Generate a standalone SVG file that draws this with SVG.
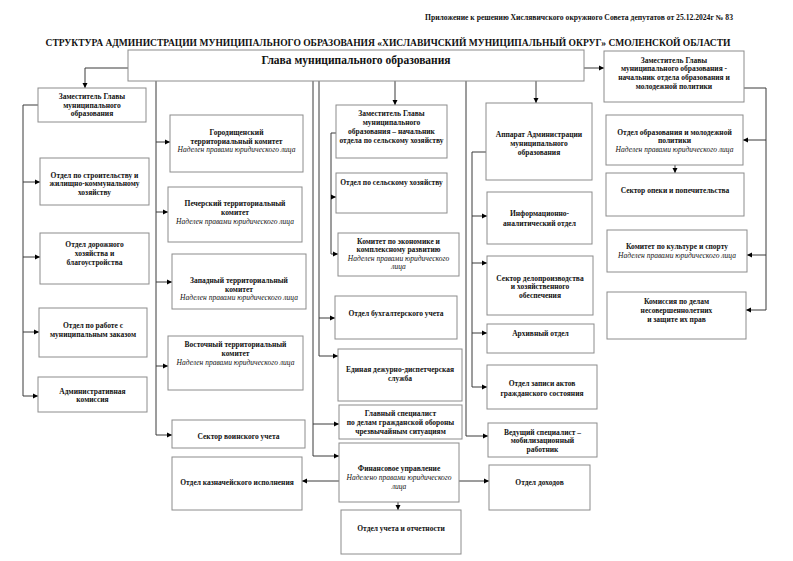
<svg xmlns="http://www.w3.org/2000/svg" width="793" height="561" viewBox="0 0 793 561">
<style>
.box{fill:#fff;stroke:#8c8c8c;stroke-width:1}
.t{font-family:"Liberation Serif","Times New Roman",serif;font-size:7.5px;font-weight:bold;text-anchor:middle;fill:#111}
.i{font-style:italic;font-weight:normal}
.c{fill:none;stroke:#3a3a3a;stroke-width:1}
.a{marker-end:url(#ah)}
</style>
<defs>
<marker id="ah" markerWidth="6" markerHeight="6" refX="5" refY="3" orient="auto" markerUnits="userSpaceOnUse">
<path d="M0,0.5 L5,3 L0,5.5 Z" fill="#000"/>
</marker>
</defs>
<rect width="793" height="561" fill="#fff"/>
<text x="733" y="20" class="t" style="text-anchor:end;font-size:7.2px" textLength="308" lengthAdjust="spacingAndGlyphs">Приложение к решению Хислявичского окружного Совета депутатов от 25.12.2024г  № 83</text>
<text x="388" y="45.5" class="t" style="font-size:10px" textLength="685" lengthAdjust="spacingAndGlyphs">СТРУКТУРА АДМИНИСТРАЦИИ МУНИЦИПАЛЬНОГО ОБРАЗОВАНИЯ «ХИСЛАВИЧСКИЙ МУНИЦИПАЛЬНЫЙ ОКРУГ» СМОЛЕНСКОЙ ОБЛАСТИ</text>

<g id="connectors">
<polyline class="c a" points="128,68 85,68 85,88"/>
<line class="c a" x1="584" y1="68" x2="604" y2="68"/>
<polyline class="c" points="38,105 23,105 23,396"/>
<line class="c a" x1="23" y1="182" x2="40" y2="182"/>
<line class="c a" x1="23" y1="257" x2="40" y2="257"/>
<line class="c a" x1="23" y1="332" x2="39" y2="332"/>
<line class="c a" x1="23" y1="396" x2="38" y2="396"/>
<line class="c" x1="156" y1="81" x2="156" y2="435"/>
<line class="c a" x1="156" y1="142" x2="170" y2="142"/>
<line class="c a" x1="156" y1="212" x2="168" y2="212"/>
<line class="c a" x1="156" y1="282" x2="172" y2="282"/>
<line class="c a" x1="156" y1="366" x2="168" y2="366"/>
<line class="c a" x1="156" y1="435" x2="172" y2="435"/>
<line class="c" x1="319" y1="81" x2="319" y2="356"/>
<line class="c a" x1="319" y1="318" x2="335" y2="318"/>
<line class="c a" x1="319" y1="356" x2="338" y2="356"/>
<line class="c" x1="313" y1="81" x2="313" y2="456"/>
<line class="c a" x1="313" y1="424" x2="339" y2="424"/>
<line class="c a" x1="313" y1="456" x2="339" y2="456"/>
<line class="c a" x1="395" y1="81" x2="395" y2="105"/>
<polyline class="c" points="336,133 331,133 331,254"/>
<line class="c a" x1="331" y1="197" x2="336" y2="197"/>
<line class="c a" x1="331" y1="254" x2="338" y2="254"/>
<polyline class="c a" points="466,81 466,436 488,436"/>
<line class="c a" x1="536" y1="81" x2="536" y2="103"/>
<polyline class="c" points="486,152 472,152 472,387"/>
<line class="c a" x1="472" y1="216" x2="487" y2="216"/>
<line class="c a" x1="472" y1="263" x2="487" y2="263"/>
<line class="c a" x1="472" y1="333" x2="487" y2="333"/>
<line class="c a" x1="472" y1="387" x2="487" y2="387"/>
<line class="c a" x1="339" y1="481" x2="302" y2="481"/>
<line class="c a" x1="459" y1="481" x2="489" y2="481"/>
<line class="c a" x1="398" y1="502" x2="398" y2="510"/>
<polyline class="c" points="744,88 766,88 766,310"/>
<line class="c a" x1="766" y1="140" x2="743" y2="140"/>
<line class="c a" x1="766" y1="255" x2="747" y2="255"/>
<line class="c a" x1="766" y1="310" x2="746" y2="310"/>
<line class="c a" x1="675" y1="165" x2="675" y2="173"/>
</g>

<g id="head"><rect class="box" x="128" y="50" width="456" height="31"/><text class="t" x="356" y="64" style="font-size:11.5px">Глава муниципального образования</text></g>

<g id="dep_left"><rect class="box" x="38" y="88" width="108" height="34"/>
<text class="t" x="92" y="98.5">Заместитель Главы</text><text class="t" x="92" y="107.5">муниципального</text><text class="t" x="92" y="116">образования</text></g>
<g id="l1"><rect class="box" x="40" y="158" width="109" height="47"/>
<text class="t" x="94.5" y="177.5">Отдел по строительству и</text><text class="t" x="94.5" y="185.5">жилищно-коммунальному</text><text class="t" x="94.5" y="194.5">хозяйству</text></g>
<g id="l2"><rect class="box" x="40" y="233" width="109" height="51"/>
<text class="t" x="94.5" y="246.5">Отдел дорожного</text><text class="t" x="94.5" y="255.5">хозяйства и</text><text class="t" x="94.5" y="264.5">благоустройства</text></g>
<g id="l3"><rect class="box" x="39" y="308" width="108" height="49"/>
<text class="t" x="93" y="327.5">Отдел по работе с</text><text class="t" x="93" y="336.5">муниципальным заказом</text></g>
<g id="l4"><rect class="box" x="38" y="377" width="109" height="35"/>
<text class="t" x="92.5" y="393.5">Административная</text><text class="t" x="92.5" y="401.5">комиссия</text></g>

<g id="gorod"><rect class="box" x="170" y="115" width="133" height="57"/>
<text class="t" x="236.5" y="134.5">Городищенский</text><text class="t" x="236.5" y="143.5">территориальный комитет</text><text class="t i" x="236.5" y="151.5">Наделен правами юридического лица</text></g>
<g id="pecher"><rect class="box" x="168" y="187" width="134" height="55"/>
<text class="t" x="235" y="205.5">Печерский территориальный</text><text class="t" x="235" y="214.5">комитет</text><text class="t i" x="235" y="223.5">Наделен правами юридического лица</text></g>
<g id="zapad"><rect class="box" x="172" y="254" width="134" height="55"/>
<text class="t" x="239" y="282.5">Западный территориальный</text><text class="t" x="239" y="291.5">комитет</text><text class="t i" x="239" y="299.5">Наделен правами юридического лица</text></g>
<g id="vostok"><rect class="box" x="168" y="336" width="135" height="54"/>
<text class="t" x="235.5" y="346.5">Восточный территориальный</text><text class="t" x="235.5" y="355.5">комитет</text><text class="t i" x="235.5" y="364.5">Наделен правами юридического лица</text></g>
<g id="voin"><rect class="box" x="172" y="420" width="133" height="28"/>
<text class="t" x="238.5" y="438.5">Сектор воинского учета</text></g>
<g id="kazn"><rect class="box" x="172" y="457" width="130" height="53"/>
<text class="t" x="237" y="484.5">Отдел казначейского исполнения</text></g>

<g id="dep_agri"><rect class="box" x="336" y="105" width="111" height="53"/>
<text class="t" x="391.5" y="116">Заместитель Главы</text><text class="t" x="391.5" y="124.5">муниципального</text><text class="t" x="391.5" y="133.5">образования – начальник</text><text class="t" x="391.5" y="142.5">отдела по сельскому хозяйству</text></g>
<g id="agri"><rect class="box" x="336" y="173" width="111" height="40"/>
<text class="t" x="391.5" y="184.5">Отдел по сельскому хозяйству</text></g>
<g id="econ"><rect class="box" x="338" y="233" width="121" height="43"/>
<text class="t" x="398.5" y="243.5">Комитет по экономике и</text><text class="t" x="398.5" y="251.5">комплексному развитию</text><text class="t i" x="398.5" y="260.5">Наделен правами юридического</text><text class="t i" x="398.5" y="268.5">лица</text></g>
<g id="buh"><rect class="box" x="335" y="296" width="122" height="43"/>
<text class="t" x="396" y="315.5">Отдел бухгалтерского учета</text></g>
<g id="edds"><rect class="box" x="338" y="349" width="124" height="52"/>
<text class="t" x="400" y="371.5">Единая дежурно-диспетчерская</text><text class="t" x="400" y="380.5">служба</text></g>
<g id="gochs"><rect class="box" x="339" y="405" width="123" height="34"/>
<text class="t" x="400.5" y="415.5">Главный специалист</text><text class="t" x="400.5" y="424.5">по делам гражданской обороны</text><text class="t" x="400.5" y="433.5">чрезвычайным ситуациям</text></g>
<g id="fin"><rect class="box" x="339" y="443" width="120" height="59"/>
<text class="t" x="399" y="470.5">Финансовое управление</text><text class="t i" x="399" y="479.5">Наделено правами юридического</text><text class="t i" x="399" y="488.5">лица</text></g>
<g id="uchet"><rect class="box" x="341" y="510" width="120" height="44"/>
<text class="t" x="401" y="530.5">Отдел учета и отчетности</text></g>

<g id="apparat"><rect class="box" x="486" y="103" width="106" height="77"/>
<text class="t" x="539" y="136.5">Аппарат Администрации</text><text class="t" x="539" y="145.5">муниципального</text><text class="t" x="539" y="154.5">образования</text></g>
<g id="info"><rect class="box" x="487" y="192" width="105" height="52"/>
<text class="t" x="539.5" y="216">Информационно-</text><text class="t" x="539.5" y="226">аналитический отдел</text></g>
<g id="delo"><rect class="box" x="487" y="256" width="106" height="59"/>
<text class="t" x="540" y="280.5">Сектор делопроизводства</text><text class="t" x="540" y="288.5">и хозяйственного</text><text class="t" x="540" y="297.5">обеспечения</text></g>
<g id="archive"><rect class="box" x="487" y="324" width="107" height="29"/>
<text class="t" x="540.5" y="335.5">Архивный отдел</text></g>
<g id="zags"><rect class="box" x="487" y="365" width="110" height="44"/>
<text class="t" x="542" y="385.5">Отдел записи актов</text><text class="t" x="542" y="395.5">гражданского состояния</text></g>
<g id="mob"><rect class="box" x="488" y="423" width="109" height="34"/>
<text class="t" x="542.5" y="434.5">Ведущий специалист –</text><text class="t" x="542.5" y="442.5">мобилизационный</text><text class="t" x="542.5" y="451.5">работник</text></g>
<g id="dohod"><rect class="box" x="489" y="465" width="101" height="45"/>
<text class="t" x="539.5" y="484.5">Отдел доходов</text></g>

<g id="dep_edu"><rect class="box" x="604" y="51" width="140" height="51"/>
<text class="t" x="674" y="62.5">Заместитель Главы</text><text class="t" x="674" y="70.5">муниципального образования -</text><text class="t" x="674" y="79.5">начальник отдела образования и</text><text class="t" x="674" y="88.5">молодежной политики</text></g>
<g id="edu"><rect class="box" x="606" y="115" width="137" height="50"/>
<text class="t" x="674.5" y="134.5">Отдел образования и молодежной</text><text class="t" x="674.5" y="142.5">политики</text><text class="t i" x="674.5" y="151.5">Наделен правами юридического лица</text></g>
<g id="opeka"><rect class="box" x="606" y="173" width="138" height="43"/>
<text class="t" x="675" y="192.5">Сектор опеки и попечительства</text></g>
<g id="culture"><rect class="box" x="607" y="230" width="140" height="42"/>
<text class="t" x="677" y="248.5">Комитет по культуре и спорту</text><text class="t i" x="677" y="257.5">Наделен правами юридического лица</text></g>
<g id="kdn"><rect class="box" x="607" y="292" width="139" height="47"/>
<text class="t" x="676.5" y="303.5">Комиссия по делам</text><text class="t" x="676.5" y="312.5">несовершеннолетних</text><text class="t" x="676.5" y="321.5">и защите их прав</text></g>
</svg>
